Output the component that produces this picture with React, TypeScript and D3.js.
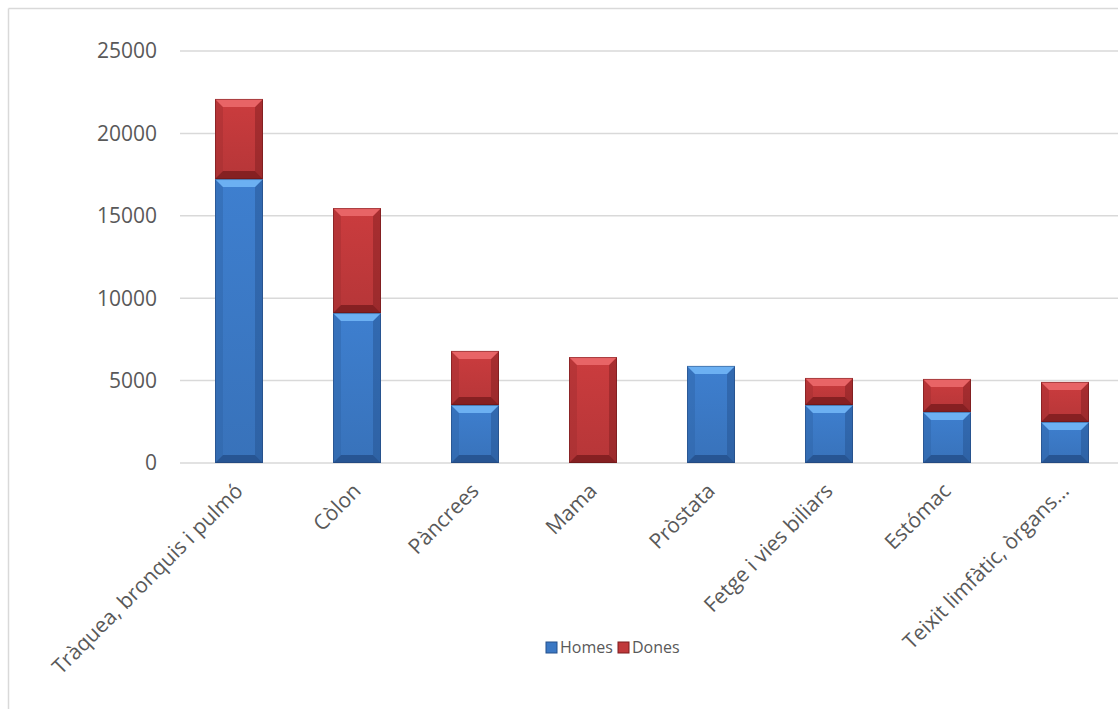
import React from "react";
import * as d3 from "d3";

const categories = [
  "Tràquea, bronquis i pulmó",
  "Còlon",
  "Pàncrees",
  "Mama",
  "Pròstata",
  "Fetge i vies biliars",
  "Estómac",
  "Teixit limfàtic, òrgans…",
];
const homes = [17230, 9100, 3520, 0, 5890, 3520, 3100, 2490];
const dones = [4860, 6370, 3280, 6430, 0, 1640, 2000, 2430];
const seriesNames = ["Homes", "Dones"];
const yTicks = [0, 5000, 10000, 15000, 20000, 25000];

const W = 1118;
const H = 709;
const FONT = "'Open Sans', 'Segoe UI', sans-serif";
const TEXT = "#595959";
const GRID = "#d9d9d9";

const palette = {
  Homes: { body: "#3b78c4", light: "#6cb0f2", dark: "#24508c", side: "#2f63a6", edge: "#1f3f6e" },
  Dones: { body: "#c0393b", light: "#e86466", dark: "#7d1c1e", side: "#a12e30", edge: "#5e1213" },
};

function Segment({ x0, x1, y0, y1, pal, id }: any) {
  const h = y1 - y0;
  const w = x1 - x0;
  if (h <= 0.5) return null;
  const b = Math.min(8, h / 2, w / 2);
  const pts = (a: number[][]) => a.map((p) => p.join(",")).join(" ");
  return (
    <g>
      <rect x={x0} y={y0} width={w} height={h} fill={`url(#${id})`} />
      <polygon points={pts([[x0, y0], [x0 + b, y0 + b], [x0 + b, y1 - b], [x0, y1]])} fill={pal.side} opacity={0.45} />
      <polygon points={pts([[x1, y0], [x1 - b, y0 + b], [x1 - b, y1 - b], [x1, y1]])} fill={pal.dark} opacity={0.45} />
      <polygon points={pts([[x0, y0], [x1, y0], [x1 - b, y0 + b], [x0 + b, y0 + b]])} fill={pal.light} />
      <polygon points={pts([[x0, y1], [x1, y1], [x1 - b, y1 - b], [x0 + b, y1 - b]])} fill={pal.dark} opacity={0.85} />
      <rect x={x0 + 0.5} y={y0 + 0.5} width={w - 1} height={h - 1} fill="none" stroke={pal.edge} strokeOpacity={0.45} strokeWidth={1} />
    </g>
  );
}

export default function App() {
  const x = d3
    .scaleBand<string>()
    .domain(categories)
    .range([180, 1124])
    .paddingInner(70 / 118)
    .paddingOuter(35 / 118);
  const y = d3.scaleLinear().domain([0, 25000]).range([463, 51]);
  const rows = categories.map((c, i) => ({ cat: c, Homes: homes[i], Dones: dones[i] }));
  const stack = d3.stack<any>().keys(seriesNames)(rows);
  const bw = x.bandwidth();

  return (
    <svg
      width={W}
      height={H}
      style={{ position: "absolute", left: 0, top: 0, background: "#fff" }}
      fontFamily={FONT}
    >
      <defs>
        {seriesNames.map((s) => {
          const pal = (palette as any)[s];
          return (
            <linearGradient key={s} id={`grad-${s}`} x1="0" y1="0" x2="0" y2="1">
              <stop offset="0%" stopColor={d3.color(pal.body)!.brighter(0.15).formatHex()} />
              <stop offset="100%" stopColor={d3.color(pal.body)!.darker(0.15).formatHex()} />
            </linearGradient>
          );
        })}
      </defs>
      <rect x={0} y={0} width={W} height={H} fill="#fff" />
      <line x1={8.5} y1={8.5} x2={W} y2={8.5} stroke={GRID} strokeWidth={1.5} />
      <line x1={8.5} y1={8.5} x2={8.5} y2={H} stroke={GRID} strokeWidth={1.5} />

      {yTicks.map((t) => (
        <g key={t}>
          <line x1={180} x2={W} y1={y(t)} y2={y(t)} stroke={GRID} strokeWidth={1.5} />
          <text x={157} y={y(t)} dy="0.35em" textAnchor="end" fontSize={21} fill={TEXT}>
            {t}
          </text>
        </g>
      ))}

      {stack.map((layer) =>
        layer.map((d, i) => {
          const x0 = x(categories[i])!;
          return (
            <Segment
              key={layer.key + i}
              x0={x0}
              x1={x0 + bw}
              y0={y(d[1])}
              y1={y(d[0])}
              pal={(palette as any)[layer.key]}
              id={`grad-${layer.key}`}
            />
          );
        })
      )}

      {categories.map((c) => {
        const cx = x(c)! + bw / 2;
        return (
          <text
            key={c}
            transform={`translate(${cx},${487}) rotate(-45)`}
            textAnchor="end"
            dy="0.35em"
            fontSize={21}
            fill={TEXT}
          >
            {c}
          </text>
        );
      })}

      {seriesNames.map((s, i) => {
        const lx = 546 + i * 72;
        const pal = (palette as any)[s];
        return (
          <g key={s}>
            <rect x={lx} y={642} width={11} height={11} fill={pal.body} stroke={pal.dark} strokeWidth={1} />
            <text x={lx + 14} y={647.5} dy="0.35em" fontSize={16} fill={TEXT}>
              {s}
            </text>
          </g>
        );
      })}
    </svg>
  );
}
